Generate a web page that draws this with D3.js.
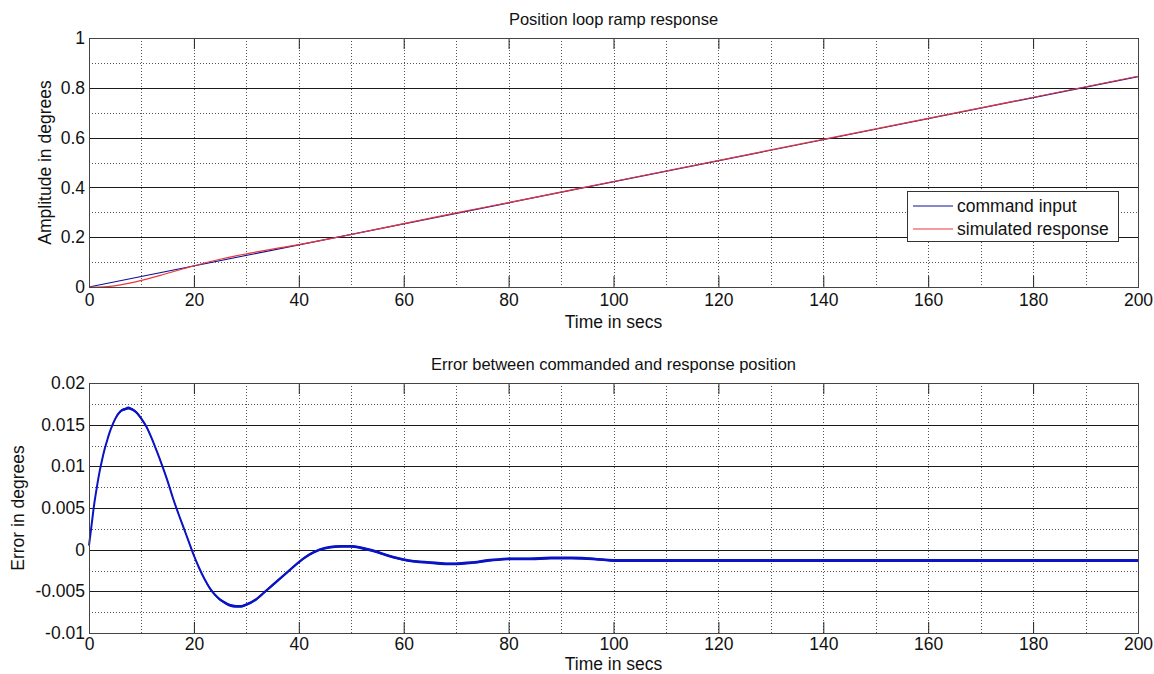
<!DOCTYPE html>
<html>
<head>
<meta charset="utf-8">
<script src="https://cdn.jsdelivr.net/npm/d3@7"></script>
<style>
  html, body { margin: 0; padding: 0; background: #fff; }
  svg { display: block; font-family: "Liberation Sans", Arial, Helvetica, sans-serif; }
</style>
</head>
<body>
<svg id="chart" width="1154" height="674"></svg>
<script>
// ---------------- DATA ----------------
const xTicks = [0, 20, 40, 60, 80, 100, 120, 140, 160, 180, 200];
const xMinorGrid = [10, 30, 50, 70, 90, 110, 130, 150, 170, 190];
const topYTicks = [0, 0.2, 0.4, 0.6, 0.8, 1];
const topYTickLabels = ["0", "0.2", "0.4", "0.6", "0.8", "1"];
const topYMinorGrid = [0.1, 0.3, 0.5, 0.7, 0.9];
const botYTicks = [-0.01, -0.005, 0, 0.005, 0.01, 0.015, 0.02];
const botYTickLabels = ["-0.01", "-0.005", "0", "0.005", "0.01", "0.015", "0.02"];
const botYMinorGrid = [-0.0075, -0.0025, 0.0025, 0.0075, 0.0125, 0.0175];

// command input (ramp)
const commandTime = [0, 200];
const commandValue = [0, 0.845];

// simulated response
const responseTime  = [0, 2, 4, 6, 8, 10, 12, 14, 16, 18, 20, 22, 25, 28, 32, 36, 40, 45, 50, 60, 70, 80, 100, 200];
const responseValue = [0, 0.0000, 0.0027, 0.0088, 0.0168, 0.0266, 0.0374, 0.0492, 0.0614, 0.0734, 0.0852, 0.0965,
                       0.1116, 0.1251, 0.1411, 0.1558, 0.1705, 0.1899, 0.2109, 0.2547, 0.2975, 0.3391, 0.4238, 0.8463];

// error between commanded and response position
const errorTime = [0, 0.5, 1, 1.5, 2, 2.5, 3, 3.5, 4, 4.5, 5, 6, 7, 7.5, 8, 9, 10, 11, 12, 13, 14, 15, 16, 17, 18, 19, 20,
                   21, 22, 23, 24, 25, 26, 27, 28, 29, 30, 32, 34, 36, 38, 40, 42, 44, 46, 48, 50, 52, 54, 56, 58, 60,
                   62, 64, 66, 68, 70, 72, 74, 76, 78, 80, 84, 88, 92, 96, 98, 100, 120, 140, 160, 180, 200];
const errorValue = [0.0005, 0.0030, 0.0055, 0.0075, 0.0093, 0.0108, 0.0121, 0.0132, 0.0142, 0.0150, 0.0157, 0.0166,
                    0.0169, 0.0170, 0.0169, 0.0165, 0.0157, 0.0147, 0.0133, 0.0117, 0.0100, 0.0082, 0.0062, 0.0044,
                    0.0027, 0.0010, -0.0007, -0.0022, -0.0035, -0.0046, -0.0054, -0.0060, -0.0064, -0.0067, -0.0068,
                    -0.0068, -0.0066, -0.0059, -0.0048, -0.0037, -0.0026, -0.0015, -0.0006, 0.0000, 0.0003, 0.0004,
                    0.0004, 0.0002, -0.0001, -0.0005, -0.0009, -0.0012, -0.0014, -0.0015, -0.0016, -0.0017, -0.0017,
                    -0.0016, -0.0015, -0.0013, -0.0012, -0.0011, -0.0011, -0.0010, -0.0010, -0.0011, -0.0012, -0.0013,
                    -0.0013, -0.0013, -0.0013, -0.0013, -0.0013];

const legendLabels = ["command input", "simulated response"];

// ---------------- DRAW ----------------
const svg = d3.select("#chart");
const FS = 17.5;
const plotLeft = 89, plotRight = 1138;

function panel(cfg) {
  const x = d3.scaleLinear().domain([0, 200]).range([plotLeft, plotRight]);
  const y = d3.scaleLinear().domain(cfg.yDomain).range([cfg.bottom, cfg.top]);
  const g = svg.append("g");

  // dotted grid: vertical at every 10 s, horizontal at minor y values
  g.append("g").selectAll("line").data(xTicks.slice(1, -1).concat(xMinorGrid)).join("line")
    .attr("x1", d => Math.round(x(d)) + 0.5).attr("x2", d => Math.round(x(d)) + 0.5)
    .attr("y1", cfg.top).attr("y2", cfg.bottom)
    .attr("stroke", "#555").attr("stroke-width", 1).attr("stroke-dasharray", "1 2");
  g.append("g").selectAll("line").data(cfg.yMinor).join("line")
    .attr("x1", plotLeft).attr("x2", plotRight)
    .attr("y1", d => Math.round(y(d)) + 0.5).attr("y2", d => Math.round(y(d)) + 0.5)
    .attr("stroke", "#555").attr("stroke-width", 1).attr("stroke-dasharray", "1 2");
  // solid horizontal lines at major y ticks
  g.append("g").selectAll("line").data(cfg.yTicks.slice(1, -1)).join("line")
    .attr("x1", plotLeft).attr("x2", plotRight)
    .attr("y1", d => Math.round(y(d)) + 0.5).attr("y2", d => Math.round(y(d)) + 0.5)
    .attr("stroke", "#1a1a1a").attr("stroke-width", 1);

  // axes (ticks inward)
  const xb = d3.axisBottom(x).tickValues(xTicks).tickSize(-11).tickFormat(d3.format("d"));
  const xt = d3.axisTop(x).tickValues(xTicks).tickSize(-11).tickFormat("");
  const yl = d3.axisLeft(y).tickValues(cfg.yTicks).tickSize(0).tickPadding(4)
    .tickFormat((d, i) => cfg.yLabels[i]);
  const gx = g.append("g").attr("transform", `translate(0,${cfg.bottom})`).call(xb);
  const gxt = g.append("g").attr("transform", `translate(0,${cfg.top})`).call(xt);
  const gy = g.append("g").attr("transform", `translate(${plotLeft},0)`).call(yl);
  [gx, gxt, gy].forEach(a => {
    a.select(".domain").remove();
    a.selectAll("line").attr("stroke", "#222");
    a.selectAll("text").attr("font-size", FS).attr("font-family", null).attr("fill", "#111");
  });
  gx.selectAll("text").attr("y", cfg.tickOffset).attr("dy", 0);

  cfg.drawData(g, x, y);

  // frame
  g.append("rect").attr("x", plotLeft + 0.5).attr("y", cfg.top + 0.5)
    .attr("width", plotRight - plotLeft).attr("height", cfg.bottom - cfg.top)
    .attr("fill", "none").attr("stroke", "#444").attr("stroke-width", 1);

  // title and labels
  g.append("text").attr("x", (plotLeft + plotRight) / 2).attr("y", cfg.top - 13)
    .attr("text-anchor", "middle").attr("font-size", FS - 1).attr("fill", "#111").text(cfg.title);
  g.append("text").attr("x", (plotLeft + plotRight) / 2).attr("y", cfg.xlabelY)
    .attr("text-anchor", "middle").attr("font-size", FS).attr("fill", "#111").text("Time in secs");
  g.append("text").attr("transform", `translate(${cfg.ylabelX},${(cfg.top + cfg.bottom) / 2}) rotate(-90)`)
    .attr("text-anchor", "middle").attr("font-size", FS).attr("fill", "#111").text(cfg.ylabel);
  return { g, x, y };
}

const cmdColor = "#10109a", respColor = "#e8383a", errColor = "#0a14c4";

panel({
  top: 38, bottom: 287, yDomain: [0, 1], yTicks: topYTicks, yLabels: topYTickLabels, yMinor: topYMinorGrid,
  tickOffset: 19, xlabelY: 328,
  title: "Position loop ramp response", ylabel: "Amplitude in degrees", ylabelX: 51,
  drawData(g, x, y) {
    const line = d3.line().x(d => x(d[0])).y(d => y(d[1])).curve(d3.curveMonotoneX);
    g.append("path").datum(commandTime.map((t, i) => [t, commandValue[i]]))
      .attr("d", line).attr("fill", "none").attr("stroke", cmdColor).attr("stroke-width", 1.2);
    g.append("path").datum(responseTime.map((t, i) => [t, responseValue[i]]))
      .attr("d", line).attr("fill", "none").attr("stroke", respColor).attr("stroke-width", 1.2);
  }
});

panel({
  top: 383, bottom: 633, yDomain: [-0.01, 0.02], yTicks: botYTicks, yLabels: botYTickLabels, yMinor: botYMinorGrid,
  tickOffset: 17, xlabelY: 670,
  title: "Error between commanded and response position", ylabel: "Error in degrees", ylabelX: 24,
  drawData(g, x, y) {
    const pts = errorTime.map((t, i) => [t, errorValue[i]]);
    const area = d3.area().x(d => x(d[0])).y0(d => y(d[1]) + 1.4).y1(d => y(d[1]) - 1.4).curve(d3.curveMonotoneX);
    const line = d3.line().x(d => x(d[0])).y(d => y(d[1])).curve(d3.curveMonotoneX);
    g.append("path").datum(pts).attr("d", area).attr("fill", errColor);
    g.append("path").datum(pts).attr("d", line).attr("fill", "none").attr("stroke", errColor).attr("stroke-width", 2);
  }
});

// legend (top panel)
const lg = svg.append("g");
lg.append("rect").attr("x", 907.5).attr("y", 191.5).attr("width", 211).attr("height", 50)
  .attr("fill", "#fff").attr("stroke", "#333").attr("stroke-width", 1);
[cmdColor, respColor].forEach((c, i) => {
  const yy = 206 + i * 23;
  lg.append("line").attr("x1", 913).attr("x2", 953).attr("y1", yy).attr("y2", yy)
    .attr("stroke", c).attr("stroke-width", 1.2);
  lg.append("text").attr("x", 957).attr("y", yy).attr("dy", "0.35em")
    .attr("font-size", FS).attr("fill", "#111").text(legendLabels[i]);
});
</script>
</body>
</html>
